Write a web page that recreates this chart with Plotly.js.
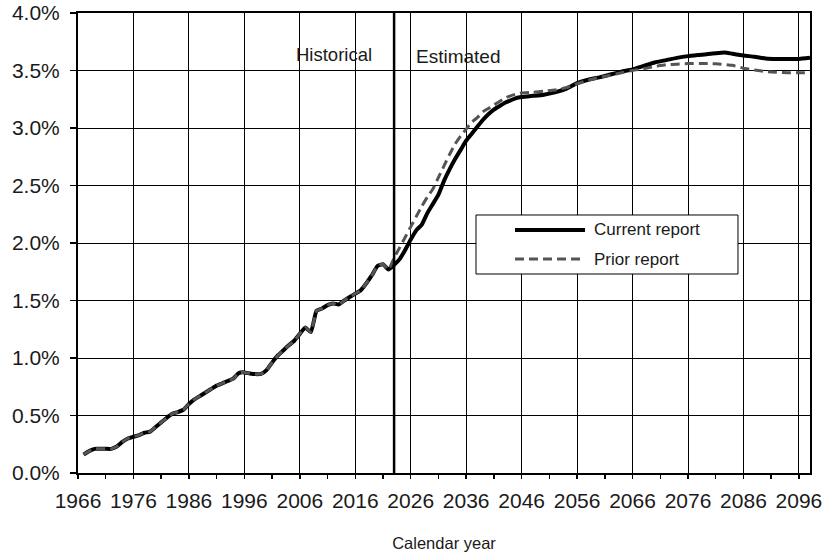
<!DOCTYPE html>
<html>
<head>
<meta charset="utf-8">
<script src="https://cdn.plot.ly/plotly-3.0.1.min.js"></script>
<style>html,body{margin:0;padding:0;background:#fff}#chart{width:825px;height:556px}</style>
</head>
<body>
<div id="chart"></div>
<script>
// Historical values (shared by both reports), percent
const histYears = [1967,1968,1969,1970,1971,1972,1973,1974,1975,1976,1977,1978,1979,1980,1981,1982,1983,1984,1985,1986,1987,1988,1989,1990,1991,1992,1993,1994,1995,1996,1997,1998,1999,2000,2001,2002,2003,2004,2005,2006,2007,2008,2009,2010,2011,2012,2013,2014,2015,2016,2017,2018,2019,2020,2021,2022];
const histValues = [0.16,0.19,0.21,0.21,0.21,0.21,0.23,0.27,0.30,0.315,0.33,0.35,0.36,0.40,0.44,0.48,0.515,0.53,0.55,0.60,0.64,0.67,0.70,0.73,0.76,0.78,0.80,0.82,0.87,0.875,0.865,0.86,0.862,0.895,0.96,1.02,1.065,1.11,1.15,1.21,1.265,1.225,1.41,1.43,1.46,1.475,1.465,1.50,1.53,1.56,1.59,1.65,1.72,1.80,1.815,1.77];

// Current report, 2023 onward
const currentYears = [2023,2024,2025,2026,2027,2028,2029,2030,2031,2032,2033,2034,2035,2036,2037,2038,2039,2040,2041,2042,2043,2044,2045,2046,2048,2050,2052,2054,2056,2058,2060,2062,2064,2066,2068,2070,2072,2074,2076,2078,2080,2082,2083,2084,2086,2088,2090,2092,2094,2096,2098];
const currentValues = [1.81,1.86,1.94,2.03,2.11,2.16,2.26,2.34,2.42,2.54,2.64,2.73,2.81,2.89,2.95,3.01,3.07,3.12,3.16,3.19,3.22,3.24,3.26,3.27,3.28,3.29,3.31,3.34,3.39,3.42,3.44,3.465,3.49,3.51,3.54,3.57,3.59,3.61,3.625,3.635,3.645,3.655,3.655,3.645,3.63,3.62,3.605,3.60,3.60,3.60,3.61];

// Prior report, 2023 onward
const priorYears = [2023,2024,2025,2026,2027,2028,2029,2030,2031,2032,2033,2034,2035,2036,2037,2038,2039,2040,2041,2042,2043,2044,2045,2046,2048,2050,2052,2054,2056,2058,2060,2062,2064,2066,2068,2070,2072,2074,2076,2078,2080,2082,2084,2086,2088,2090,2092,2094,2096,2098];
const priorValues = [1.87,1.96,2.05,2.14,2.23,2.32,2.40,2.47,2.57,2.67,2.77,2.86,2.93,2.99,3.05,3.09,3.14,3.17,3.20,3.23,3.26,3.28,3.295,3.305,3.31,3.32,3.33,3.35,3.385,3.415,3.44,3.46,3.48,3.50,3.515,3.535,3.55,3.555,3.56,3.56,3.56,3.555,3.545,3.52,3.505,3.49,3.485,3.48,3.48,3.48];

const seriesNames = ['Current report','Prior report'];
const dividerYear = 2023;
const yTicks = [0,0.5,1,1.5,2,2.5,3,3.5,4];
const yTickText = ['0.0%','0.5%','1.0%','1.5%','2.0%','2.5%','3.0%','3.5%','4.0%'];
const phaseLabels = ['Historical','Estimated'];
const xTitle = 'Calendar year';

const FONT = 'Liberation Sans, Arial, sans-serif';
const TXT = '#1a1a1a';

const traces = [
  {x: histYears.concat(currentYears), y: histValues.concat(currentValues), name: seriesNames[0],
   mode: 'lines', line: {color: '#000', width: 4, shape: 'spline', smoothing: 0.4}, showlegend: false},
  {x: histYears.concat(priorYears), y: histValues.concat(priorValues), name: seriesNames[1],
   mode: 'lines', line: {color: '#555', width: 3, dash: '9px,5px', shape: 'spline', smoothing: 0.4}, showlegend: false}
];

const layout = {
  width: 825, height: 556,
  margin: {l: 78, r: 15, t: 13, b: 83},
  paper_bgcolor: '#fff', plot_bgcolor: '#fff',
  showlegend: false,
  font: {family: FONT, color: TXT, size: 17},
  xaxis: {
    range: [1966, 2098], tick0: 1966, dtick: 10, tickmode: 'linear',
    showgrid: true, gridcolor: '#000', gridwidth: 1,
    showline: true, linecolor: '#000', linewidth: 2, mirror: true,
    ticks: 'outside', ticklen: 4, tickwidth: 1.5, tickcolor: '#000',
    minor: {tick0: 1966, dtick: 5, ticks: 'outside', ticklen: 4, tickwidth: 1.5, tickcolor: '#000', showgrid: false},
    ticklabelstandoff: 4,
    tickfont: {family: FONT, size: 21, color: TXT},
    zeroline: false,
    title: {text: xTitle, font: {family: FONT, size: 16.5, color: TXT}, standoff: 26}
  },
  xaxis2: {
    overlaying: 'x', anchor: 'y', range: [1966, 2098], tick0: 1966, dtick: 5, tickmode: 'linear',
    ticks: 'inside', ticklen: 4, tickwidth: 1.5, tickcolor: '#000',
    showticklabels: false, showgrid: false, showline: false, zeroline: false
  },
  yaxis: {
    range: [0, 4], tickmode: 'array', tickvals: yTicks, ticktext: yTickText,
    showgrid: true, gridcolor: '#000', gridwidth: 1,
    showline: true, linecolor: '#000', linewidth: 2, mirror: true,
    ticks: 'outside', ticklen: 6, tickwidth: 1.5, tickcolor: '#000',
    ticklabelstandoff: 6,
    tickfont: {family: FONT, size: 21, color: TXT},
    zeroline: false
  },
  shapes: [
    {type: 'line', xref: 'x', yref: 'paper', x0: dividerYear, x1: dividerYear, y0: 0, y1: 1,
     line: {color: '#000', width: 2.5}},
    // legend box
    {type: 'rect', xref: 'paper', yref: 'paper', x0: 0.5437, x1: 0.9016, y0: 0.4326, y1: 0.5609,
     line: {color: '#000', width: 1}, fillcolor: '#fff', layer: 'above'},
    {type: 'line', xref: 'paper', yref: 'paper', x0: 0.597, x1: 0.6926, y0: 0.5283, y1: 0.5283,
     line: {color: '#000', width: 4}, layer: 'above'},
    {type: 'line', xref: 'paper', yref: 'paper', x0: 0.597, x1: 0.6926, y0: 0.4652, y1: 0.4652,
     line: {color: '#555', width: 3, dash: '9px,5px'}, layer: 'above'}
  ],
  annotations: [
    {text: phaseLabels[0], xref: 'x', yref: 'y', x: 2019.4, y: 3.64, xanchor: 'right', yanchor: 'middle',
     showarrow: false, font: {family: FONT, size: 18.5, color: TXT}},
    {text: phaseLabels[1], xref: 'x', yref: 'y', x: 2026.6, y: 3.625, xanchor: 'left', yanchor: 'middle',
     showarrow: false, font: {family: FONT, size: 19, color: TXT}},
    {text: seriesNames[0], xref: 'paper', yref: 'paper', x: 0.7022, y: 0.5283, xanchor: 'left', yanchor: 'middle',
     showarrow: false, font: {family: FONT, size: 17, color: TXT}},
    {text: seriesNames[1], xref: 'paper', yref: 'paper', x: 0.7022, y: 0.4652, xanchor: 'left', yanchor: 'middle',
     showarrow: false, font: {family: FONT, size: 17, color: TXT}}
  ]
};

Plotly.newPlot('chart', traces, layout, {displayModeBar: false, staticPlot: true});
</script>
</body>
</html>
